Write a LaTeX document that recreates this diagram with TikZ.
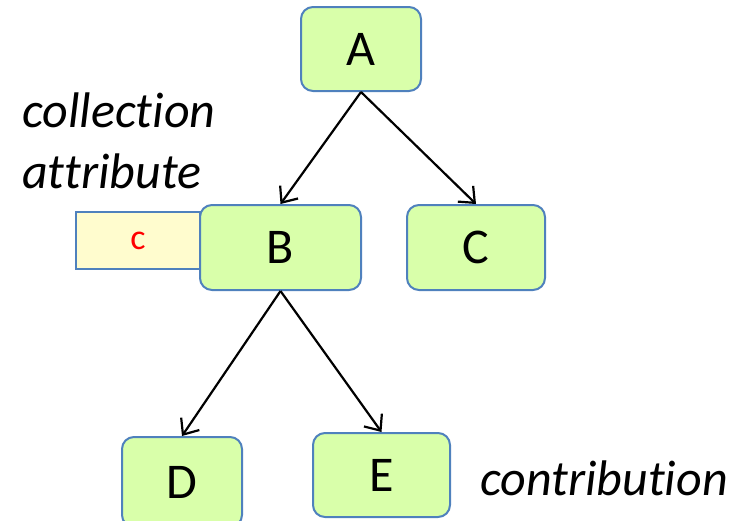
\documentclass[tikz,border=0pt]{standalone}
\usepackage{fontspec}
\setmainfont[Ligatures=NoCommon]{Carlito}
\usetikzlibrary{arrows.meta}
\definecolor{boxgreen}{RGB}{217,255,170}
\definecolor{boxblue}{RGB}{79,129,189}
\definecolor{boxyellow}{RGB}{255,252,206}
\tikzset{
  tnode/.style={draw=boxblue, line width=2pt, fill=boxgreen, rounded corners=12pt,
    inner sep=0pt, font=\fontsize{50}{60}\selectfont},
  attrbox/.style={draw=boxblue, line width=2pt, fill=boxyellow, inner sep=0pt,
    text=red, font=\fontsize{36}{42}\selectfont},
  edge/.style={draw=black, line width=2.2pt, -{Straight Barb[length=13pt,width=22pt,line width=2.2pt]}},
  note/.style={inner sep=0pt, anchor=base west, font=\fontsize{50}{60}\selectfont\itshape}
}
\begin{document}
\begin{tikzpicture}[x=1pt,y=-1pt]
  \useasboundingbox (0,0) rectangle (749,520);
  \node[attrbox, minimum width=124pt, minimum height=57pt] (cb) at (138,240.5) {c};
  \node[tnode, minimum width=120pt, minimum height=84pt] (A) at (361,49) {A};
  \node[tnode, minimum width=161pt, minimum height=85pt] (B) at (280.5,247.5) {B};
  \node[tnode, minimum width=138pt, minimum height=85pt] (C) at (476,247.5) {C};
  \node[tnode, minimum width=120pt, minimum height=90pt] (D) at (182,482) {D};
  \node[tnode, minimum width=137pt, minimum height=84pt] (E) at (381.5,475) {E};
  \draw[edge] (A.south) -- (B.north);
  \draw[edge] (A.south) -- (C.north);
  \draw[edge] (B.south) -- (D.north);
  \draw[edge] (B.south) -- (E.north);
  \node[note] (t1) at (22,127) {collection};
  \node[note] (t2) at (22,188) {attribute};
  \node[note] (t3) at (480,495) {contribution};
\end{tikzpicture}
\end{document}
